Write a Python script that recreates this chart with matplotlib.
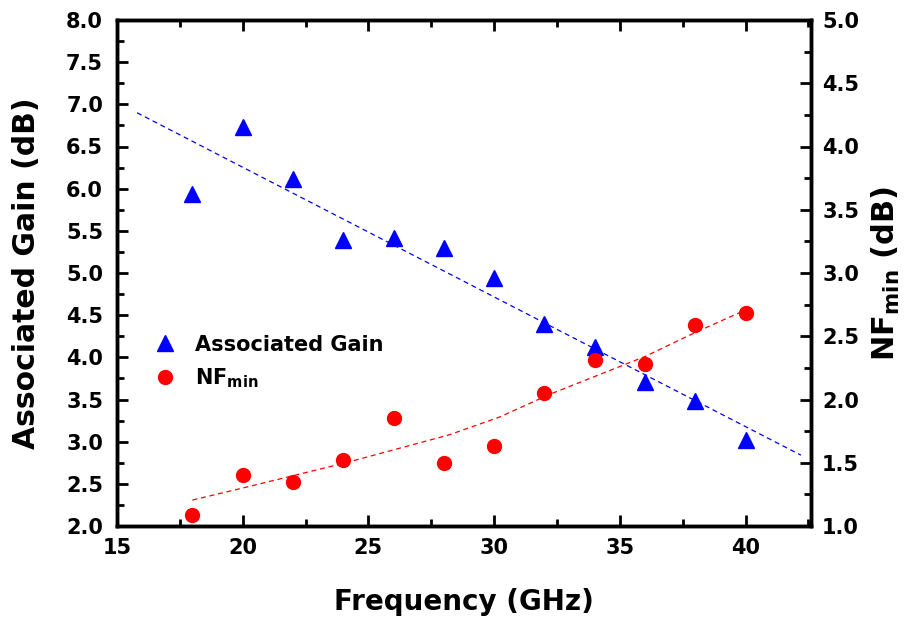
import matplotlib.pyplot as plt
from matplotlib.ticker import MultipleLocator

plt.rcParams['font.family'] = ['DejaVu Sans']
plt.rcParams['font.weight'] = 'bold'
plt.rcParams['mathtext.default'] = 'regular'

freq = [18, 20, 22, 24, 26, 28, 30, 32, 34, 36, 38, 40]
gain = [5.94, 6.73, 6.11, 5.39, 5.41, 5.30, 4.94, 4.39, 4.12, 3.71, 3.48, 3.02]
nfmin = [1.09, 1.40, 1.35, 1.52, 1.85, 1.50, 1.63, 2.05, 2.31, 2.28, 2.59, 2.68]

# fitted trend lines
gain_fit_x = [15.8, 42.2]
gain_fit_y = [6.90, 2.84]
nf_fit_x = [18, 20, 24.1, 28.2, 30.2, 32.2, 36, 38, 39.8]
nf_fit_y = [1.205, 1.30, 1.50, 1.72, 1.86, 2.04, 2.34, 2.53, 2.69]

fig = plt.figure(figsize=(9.11, 6.25), dpi=100)
ax = fig.add_axes([0.1284, 0.1584, 0.7618, 0.8096])
ax2 = ax.twinx()

ax.plot(gain_fit_x, gain_fit_y, color='blue', lw=0.9, linestyle=(0, (4, 3)))
ax.plot(freq, gain, '^', color='blue', ms=11, label='Associated Gain', linestyle='none')
ax2.plot(nf_fit_x, nf_fit_y, color='red', lw=0.9, linestyle=(0, (4, 3)))
ax2.plot(freq, nfmin, 'o', color='red', ms=10, label='NF$_{min}$', linestyle='none')

ax.set_xlim(15, 42.6)
ax.set_ylim(2.0, 8.0)
ax2.set_ylim(1.0, 5.0)

ax.xaxis.set_major_locator(MultipleLocator(5))
ax.xaxis.set_minor_locator(MultipleLocator(2.5))
ax.yaxis.set_major_locator(MultipleLocator(0.5))
ax.yaxis.set_minor_locator(MultipleLocator(0.25))
ax2.yaxis.set_major_locator(MultipleLocator(0.5))
ax2.yaxis.set_minor_locator(MultipleLocator(0.25))

ax.xaxis.set_major_formatter(lambda v, p: '%d' % v if v <= 40 else '')
ax.yaxis.set_major_formatter(lambda v, p: '%.1f' % v)
ax2.yaxis.set_major_formatter(lambda v, p: '%.1f' % v)

for a in (ax, ax2):
    for s in a.spines.values():
        s.set_linewidth(2.5)
ax.tick_params(which='both', direction='in', top=True, labelsize=15, width=2)
ax.tick_params(which='major', length=8)
ax.tick_params(which='minor', length=5)
ax.tick_params(axis='x', which='major', pad=9)
ax.tick_params(axis='y', which='major', pad=10)
ax.tick_params(axis='y', which='both', right=False)
ax2.tick_params(which='both', direction='in', labelsize=15, width=2)
ax2.tick_params(which='major', length=8, pad=8)
ax2.tick_params(which='minor', length=5)

ax.set_xlabel('Frequency (GHz)', fontsize=20, fontweight='bold', labelpad=21)
ax.set_ylabel('Associated Gain (dB)', fontsize=21.5, fontweight='bold', labelpad=18)
ax2.set_ylabel('NF$_{min}$ (dB)', fontsize=22, fontweight='bold', labelpad=8)

h1, l1 = ax.get_legend_handles_labels()
h2, l2 = ax2.get_legend_handles_labels()
ax.legend(h1 + h2, l1 + l2, loc='upper left', bbox_to_anchor=(0.02, 0.415),
          frameon=False, fontsize=15, handletextpad=0.7, labelspacing=0.55,
          handlelength=1.5)

fig.savefig('out.png', dpi=100)
